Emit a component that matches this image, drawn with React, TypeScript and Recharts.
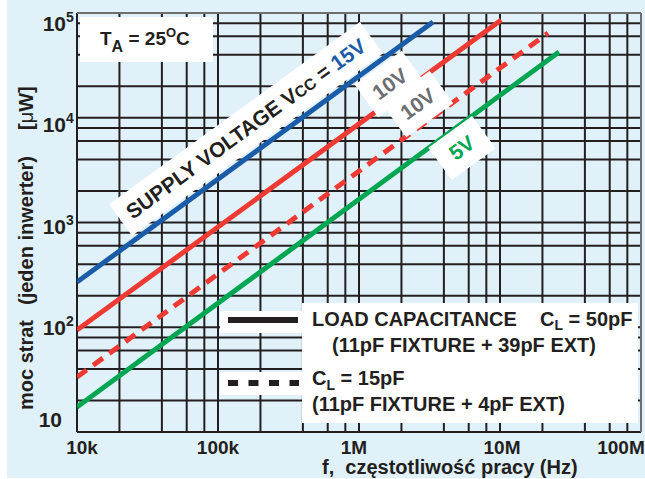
import { LineChart, Line, XAxis, YAxis, CartesianGrid, ReferenceDot, ReferenceLine } from 'recharts'

const FONT = '"Liberation Sans", Arial, Helvetica, sans-serif'
const INK = '#231f20'
const BLUE = '#1b5ca8'
const RED = '#ee3a33'
const GREEN = '#00a651'
const GREY = '#6d6e71'

// f [Hz] and power [uW] at the two ends of each (straight, log-log) curve
const vcc15Freq = [1e4, 3.35e6]
const vcc15Power = [270, 82000]
const vcc10Freq = [1e4, 1.02e7]
const vcc10Power = [94, 85700]
const vcc10LowCapFreq = [1e4, 2.19e7]
const vcc10LowCapPower = [33.5, 64400]
const vcc5Freq = [1e4, 2.62e7]
const vcc5Power = [17.3, 42500]

const freqDecades = [1e4, 1e5, 1e6, 1e7, 1e8]
const freqLabels = ['10k', '100k', '1M', '10M', '100M']
const powerDecades = [10, 100, 1e3, 1e4, 1e5]
const powerExponents = ['', '2', '3', '4', '5']
const gridSteps = [2, 4, 6, 8]

const toPoints = (fs: number[], ps: number[]) => fs.map((f, i) => ({ f, p: ps[i] }))
const withSteps = (decades: number[]) =>
  decades.flatMap((d, i) => (i === decades.length - 1 ? [d] : [d, ...gridSteps.map((s) => s * d)]))

const xTicks = withSteps(freqDecades)
const yTicks = withSteps(powerDecades)

const xNudge = [5, 0, -5, 2, -20]
const yNudge = [-5, 8, 11, 14, 18]

function FreqTick({ x, y, payload }: any) {
  const i = freqDecades.indexOf(payload.value)
  if (i < 0) return null
  return (
    <text x={x + xNudge[i]} y={y + 22} textAnchor="middle" fontSize={19} fontWeight="bold" fill={INK} fontFamily={FONT}>
      {freqLabels[i]}
    </text>
  )
}

function PowerTick({ x, y, payload }: any) {
  const i = powerDecades.indexOf(payload.value)
  if (i < 0) return null
  const exp = powerExponents[i]
  const right = exp ? x - 11 : x - 15
  return (
    <g fontFamily={FONT} fontWeight="bold" fill={INK}>
      <text x={right} y={y + yNudge[i]} textAnchor="end" fontSize={21}>10</text>
      {exp && (
        <text x={right} y={y + yNudge[i] - 9} fontSize={14}>{exp}</text>
      )}
    </g>
  )
}

const ANGLE = -36

function Tag({ cx, cy, w, h, children }: any) {
  return (
    <g transform={`translate(${cx},${cy}) rotate(${ANGLE})`}>
      <rect x={-w / 2} y={-h / 2} width={w} height={h} fill="#fff" />
      {children}
    </g>
  )
}

const tagText = { fontFamily: FONT, fontWeight: 'bold', fontSize: 21, textAnchor: 'middle' } as any

export default function App() {
  return (
    <div style={{ position: 'absolute', left: 0, top: 0, width: 645, height: 479, background: '#fff' }}>
      <div style={{ position: 'absolute', left: 7, top: 0, width: 638, height: 478, background: '#e0f1fa' }} />
      <div style={{ position: 'absolute', left: 0, top: 0 }}>
        <LineChart width={645} height={479} margin={{ top: 13, right: 4, left: 7, bottom: 7 }}>
          <CartesianGrid stroke={INK} strokeWidth={2} strokeOpacity={1} />
          <XAxis
            dataKey="f"
            type="number"
            scale="log"
            domain={[1e4, 1e8]}
            ticks={xTicks}
            allowDataOverflow
            axisLine={false}
            tickLine={false}
            tickSize={0}
            tickMargin={0}
            height={40}
            tick={<FreqTick />}
            interval={0}
          />
          <YAxis
            dataKey="p"
            type="number"
            scale="log"
            domain={[10, 1e5]}
            ticks={yTicks}
            allowDataOverflow
            axisLine={false}
            tickLine={false}
            tickSize={0}
            tickMargin={0}
            width={70}
            tick={<PowerTick />}
            interval={0}
          />
          <ReferenceLine y={1e5} stroke={GREY} strokeWidth={2} />
          <ReferenceLine x={1e8} stroke={GREY} strokeWidth={2} />
          <ReferenceDot
            x={1.58e5}
            y={7820}
            ifOverflow="visible"
            shape={(p: any) => (
              <Tag cx={p.cx} cy={p.cy} w={310} h={39}>
                <text {...tagText} y={7} fill={INK}>
                  SUPPLY VOLTAGE V<tspan fontSize={16}>CC</tspan> = <tspan fill={BLUE}>15V</tspan>
                </text>
              </Tag>
            )}
          />
          <ReferenceDot
            x={1.66e6}
            y={21000}
            ifOverflow="visible"
            shape={(p: any) => (
              <Tag cx={p.cx} cy={p.cy} w={58} h={40}>
                <text {...tagText} y={7} fill={GREY}>10V</text>
              </Tag>
            )}
          />
          <ReferenceDot
            x={2.62e6}
            y={13500}
            ifOverflow="visible"
            shape={(p: any) => (
              <Tag cx={p.cx} cy={p.cy} w={58} h={40}>
                <text {...tagText} y={7} fill={GREY}>10V</text>
              </Tag>
            )}
          />
          <ReferenceDot
            x={5.37e6}
            y={5140}
            ifOverflow="visible"
            shape={(p: any) => (
              <Tag cx={p.cx} cy={p.cy} w={54} h={40}>
                <text {...tagText} y={7} fill={GREEN}>5V</text>
              </Tag>
            )}
          />
          <Line data={toPoints(vcc15Freq, vcc15Power)} dataKey="p" stroke={BLUE} strokeWidth={5} dot={false} isAnimationActive={false} />
          <Line data={toPoints(vcc10Freq, vcc10Power)} dataKey="p" stroke={RED} strokeWidth={5} dot={false} isAnimationActive={false} />
          <Line data={toPoints(vcc10LowCapFreq, vcc10LowCapPower)} dataKey="p" stroke={RED} strokeWidth={5} strokeDasharray="12 8" dot={false} isAnimationActive={false} />
          <Line data={toPoints(vcc5Freq, vcc5Power)} dataKey="p" stroke={GREEN} strokeWidth={5} dot={false} isAnimationActive={false} />
        </LineChart>
      </div>
      <svg width={645} height={479} style={{ position: 'absolute', left: 0, top: 0, pointerEvents: 'none' }} fontFamily={FONT} fontWeight="bold" fill={INK}>
        {/* ambient temperature box */}
        <rect x={80} y={17} width={133} height={45} fill="#fff" />
        <text x={100} y={45} fontSize={19}>
          T<tspan dy={7} fontSize={16}>A</tspan>
          <tspan dy={-7}> = 25</tspan>
          <tspan dy={-8} fontSize={13}>O</tspan>
          <tspan dy={8}>C</tspan>
        </text>

        {/* legend */}
        <rect x={302} y={303} width={336} height={120} fill="#fff" />
        <rect x={220} y={311} width={84} height={22} fill="#fff" />
        <rect x={220} y={372} width={84} height={23} fill="#fff" />
        <line x1={228} x2={298} y1={320} y2={320} stroke={INK} strokeWidth={6} />
        <line x1={228} x2={299} y1={383} y2={383} stroke={INK} strokeWidth={6} strokeDasharray="10 10.5" />
        <text x={312} y={326} fontSize={20}>LOAD CAPACITANCE</text>
        <text x={540} y={326} fontSize={20}>
          C<tspan dy={4} fontSize={14}>L</tspan>
          <tspan dy={-4}> = 50pF</tspan>
        </text>
        <text x={332} y={352} fontSize={20}>(11pF FIXTURE + 39pF EXT)</text>
        <text x={312} y={385} fontSize={20}>
          C<tspan dy={5} fontSize={14}>L</tspan>
          <tspan dy={-5}> = 15pF</tspan>
        </text>
        <text x={312} y={411} fontSize={20}>(11pF FIXTURE + 4pF EXT)</text>

        {/* axis titles */}
        <text x={322} y={474} fontSize={20}>{'f,\u00a0 częstotliwość pracy (Hz)'}</text>
        <g transform="translate(33,0)" fontSize={20}>
          <text transform="translate(0,410) rotate(-90)">moc strat</text>
          <text transform="translate(0,305) rotate(-90)">(jeden inwerter)</text>
          <text transform="translate(0,130) rotate(-90)">
            [<tspan fontWeight="normal">μ</tspan>W]
          </text>
        </g>
      </svg>
    </div>
  )
}
